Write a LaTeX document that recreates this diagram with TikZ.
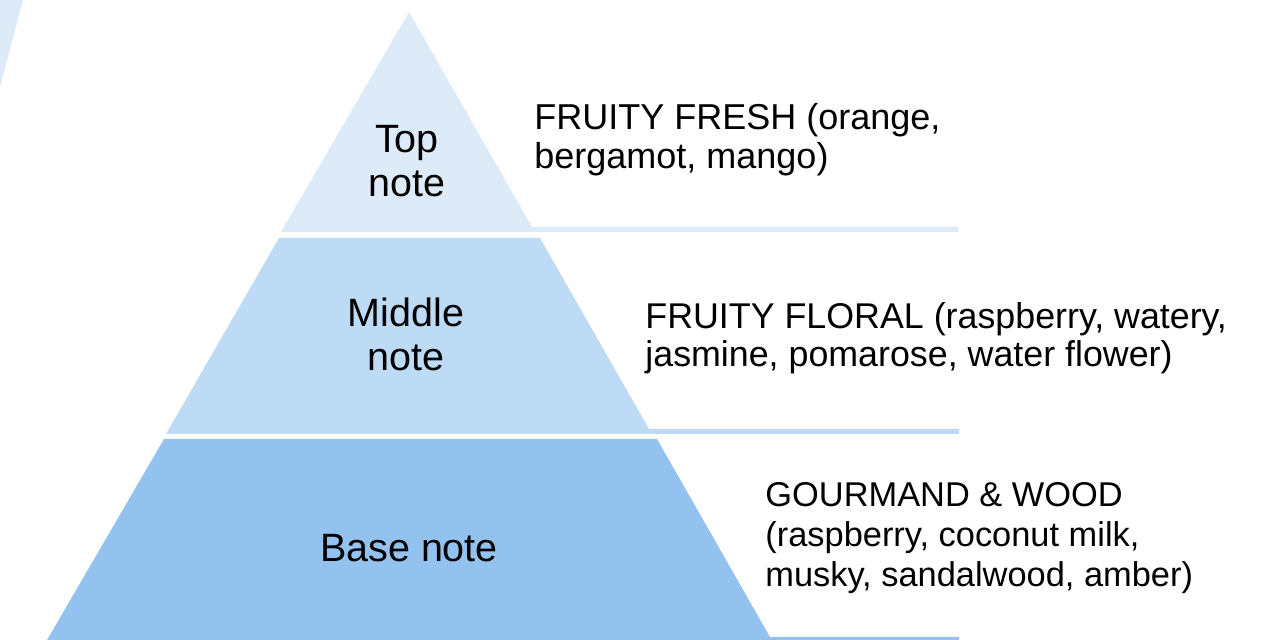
\documentclass[tikz,border=0pt]{standalone}
\usepackage{fontspec}
\setmainfont{Liberation Sans}
\definecolor{topblue}{HTML}{DDEAF7}
\definecolor{midblue}{HTML}{BDDBF5}
\definecolor{baseblue}{HTML}{93C2EF}
\tikzset{x = 0.5pt, y = -0.5pt,
  level/.style = {align = center, inner sep = 0, anchor = base,
    font = \fontsize{19.75}{22}\selectfont},
  notes/.style = {align = left, inner sep = 0, anchor = base west,
    font = \fontsize{18}{19.5}\selectfont}}

\begin{document}
\begin{tikzpicture}
  \useasboundingbox (0,0) rectangle (1275,640);
  % bands
  \fill [topblue] (0,0) -- (23,0) -- (0,87) -- cycle;
  \fill [topblue] (409,12) -- (532,227) -- (958,227) -- (958,232) -- (281,232) -- cycle;
  \fill [midblue] (279,238) -- (540,238) -- (649,429) -- (959,429) -- (959,434) -- (166,434) -- cycle;
  \fill [baseblue] (164,439) -- (657,439) -- (770,637) -- (959,637) -- (959,640) -- (47,640) -- cycle;
  % nodes (base = last line)
  \node (top) [level] at (407,197) {Top\\note};
  \node (middle) [level] at (406,371) {Middle\\note};
  \node (base) [level] at (409,562) {Base note};
  \node (fresh) [notes] at (534,169) {FRUITY FRESH (orange,\\bergamot, mango)};
  \node (floral) [notes, font = \fontsize{17.9}{19}\selectfont] at (645,367) {FRUITY FLORAL (raspberry, watery,\\jasmine, pomarose, water flower)};
  \node (wood) [notes, font = \fontsize{17.2}{20}\selectfont] at (765,587) {GOURMAND \& WOOD\\(raspberry, coconut milk,\\musky, sandalwood, amber)};
\end{tikzpicture}
\end{document}
